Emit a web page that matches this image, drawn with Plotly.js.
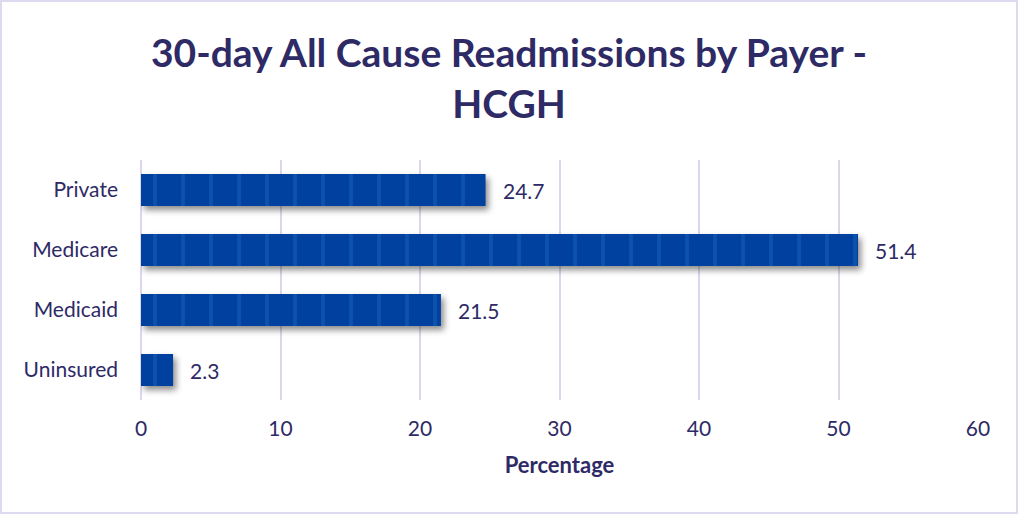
<!DOCTYPE html>
<html>
<head>
<meta charset="utf-8">
<script src="https://cdn.plot.ly/plotly-3.0.1.min.js"></script>
<style>
  html, body { margin: 0; padding: 0; background: #fff; }
  #wrap { position: relative; width: 1018px; height: 514px; }
  #chart { width: 1018px; height: 514px; }
  #frame { position: absolute; left: 0; top: 0; width: 1018px; height: 514px; box-sizing: border-box; border: 2px solid #DCD9F0; pointer-events: none; }
  .barlayer .point path { filter: drop-shadow(3px 4px 3px rgba(0,0,0,0.45)); }
</style>
</head>
<body>
<div id="wrap"><div id="chart"></div><div id="frame"></div></div>
<script>
const categories = ["Private", "Medicare", "Medicaid", "Uninsured"];
const values = [24.7, 51.4, 21.5, 2.3];
const valueLabels = ["24.7", "51.4", "21.5", "2.3"];
const xTicks = [0, 10, 20, 30, 40, 50, 60];

const navy = "#2E2A66";
const fontFam = "Lato, 'Open Sans', sans-serif";

const trace = {
  type: "bar",
  orientation: "h",
  y: categories,
  x: values,
  width: 0.53,
  marker: {
    color: "#0041A0",
    line: { width: 0 },
    pattern: { shape: "|", fgcolor: "#1A66BA", bgcolor: "#0041A0", size: 28, solidity: 0.13, fillmode: "overlay" }
  },
  hoverinfo: "none"
};

const labelAnnotations = categories.map((c, i) => ({
  x: values[i], y: c, xref: "x", yref: "y",
  text: valueLabels[i], showarrow: false,
  xanchor: "left", yanchor: "middle", xshift: 15,
  font: { family: fontFam, size: 21, color: navy }
}));

const layout = {
  width: 1018,
  height: 514,
  margin: { l: 141, r: 40, t: 160, b: 114 },
  paper_bgcolor: "#ffffff",
  plot_bgcolor: "#ffffff",
  showlegend: false,
  title: {
    text: "30-day All Cause Readmissions by Payer -<br>HCGH",
    font: { family: fontFam, size: 39, color: navy, weight: "bold" },
    x: 0.5, xanchor: "center",
    y: 0.87, yanchor: "top", yref: "container"
  },
  xaxis: {
    range: [0, 60],
    tickvals: xTicks,
    ticktext: xTicks.map(String),
    showgrid: true,
    gridcolor: "#D9D6EE",
    gridwidth: 2,
    zeroline: true,
    zerolinecolor: "#D9D6EE",
    zerolinewidth: 2,
    showline: false,
    ticks: "",
    ticklabelstandoff: 14,
    tickfont: { family: fontFam, size: 21, color: navy },
    title: { text: "Percentage", font: { family: fontFam, size: 22, color: navy, weight: "bold" }, standoff: 18 },
    fixedrange: true
  },
  yaxis: {
    autorange: "reversed",
    showgrid: false,
    zeroline: false,
    showline: false,
    ticks: "",
    ticklabelstandoff: 22,
    tickfont: { family: fontFam, size: 21, color: navy },
    fixedrange: true
  },
  annotations: labelAnnotations
};

Plotly.newPlot("chart", [trace], layout, { displayModeBar: false, staticPlot: true });
</script>
</body>
</html>
